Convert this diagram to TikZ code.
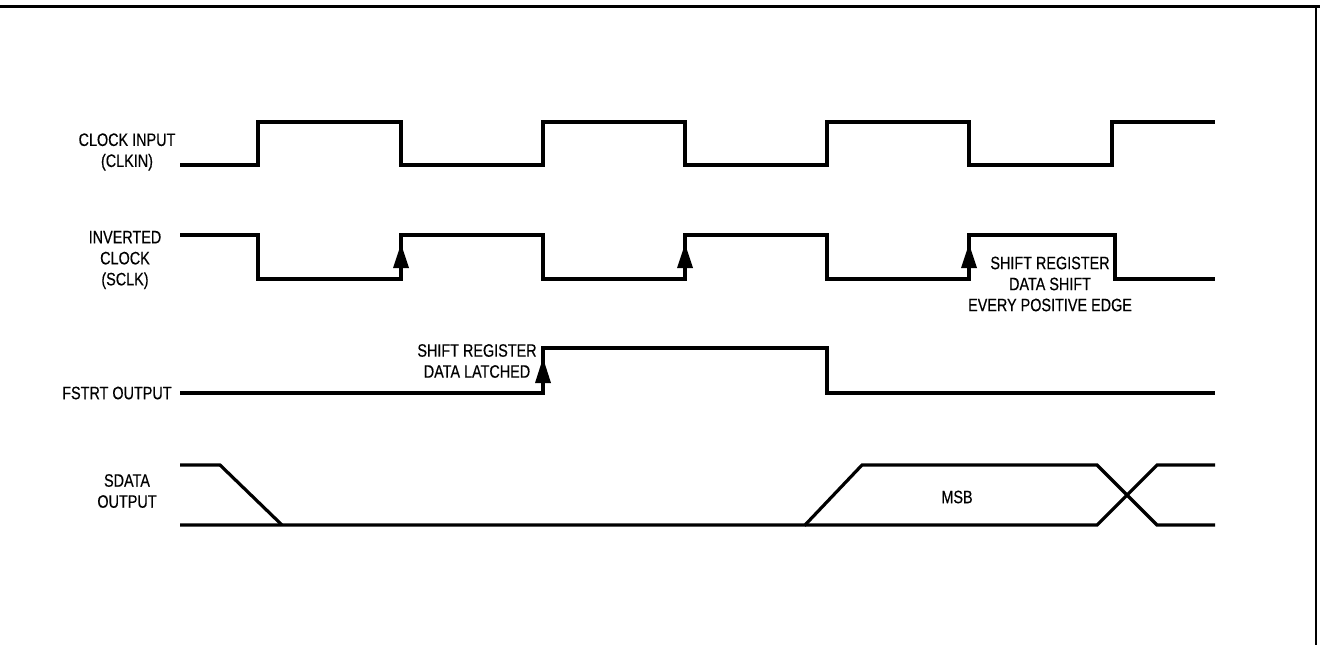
\documentclass[tikz,border=0pt]{standalone}
\usepackage{fontspec}
\setmainfont[FakeStretch=0.8,FakeBold=0.4]{Liberation Sans}
\begin{document}
\begin{tikzpicture}[x=0.5pt,y=-0.5pt,
  sig/.style={line width=1.6pt, line join=miter},
  lbl/.style={font=\fontsize{9}{10.5}\selectfont, align=center, inner sep=0pt},
  tri/.style={fill=black, draw=none}]
\useasboundingbox (0,0) rectangle (1320,645);
% frame
\draw[line width=1.5pt] (0,6) -- (1320,6);
\draw[line width=1.1pt] (1316,6) -- (1316,645);
% CLOCK INPUT
\draw[sig] (180,165) -- (258,165) -- (258,122) -- (401,122) -- (401,165) -- (543,165) -- (543,122) -- (685,122) -- (685,165) -- (827,165) -- (827,122) -- (969,122) -- (969,165) -- (1112,165) -- (1112,122) -- (1215,122);
% INVERTED CLOCK
\draw[sig] (180,235) -- (258,235) -- (258,279) -- (401,279) -- (401,235) -- (543,235) -- (543,279) -- (685,279) -- (685,235) -- (827,235) -- (827,279) -- (969,279) -- (969,235) -- (1115,235) -- (1115,279) -- (1215,279);
\foreach \xx in {401,685,969} \fill[tri] (\xx-8,268) -- (\xx,244) -- (\xx+8,268) -- cycle;
% FSTRT
\draw[sig] (180,393) -- (543,393) -- (543,348) -- (827,348) -- (827,393) -- (1215,393);
\fill[tri] (535,383) -- (543,358) -- (551,383) -- cycle;
% SDATA
\draw[sig] (180,465) -- (220,465) -- (282,525);
\draw[sig] (180,525) -- (805,525) -- (862,465) -- (1097,465) -- (1157,525) -- (1215,525);
\draw[sig] (805,525) -- (1097,525) -- (1157,465) -- (1215,465);
% labels
\node[lbl] (clk) at (127,152) {CLOCK INPUT\\(CLKIN)};
\node[lbl] (sclk) at (125,260) {INVERTED\\CLOCK\\(SCLK)};
\node[lbl, anchor=east] (fstrt) at (172,393) {FSTRT OUTPUT};
\node[lbl] (sdata) at (127,491) {SDATA\\OUTPUT};
\node[lbl] (latch) at (477,361) {SHIFT REGISTER\\DATA LATCHED};
\node[lbl] (shift) at (1050,284) {SHIFT REGISTER\\DATA SHIFT\\EVERY POSITIVE EDGE};
\node[lbl] (msb) at (957,497) {MSB};
\end{tikzpicture}
\end{document}
